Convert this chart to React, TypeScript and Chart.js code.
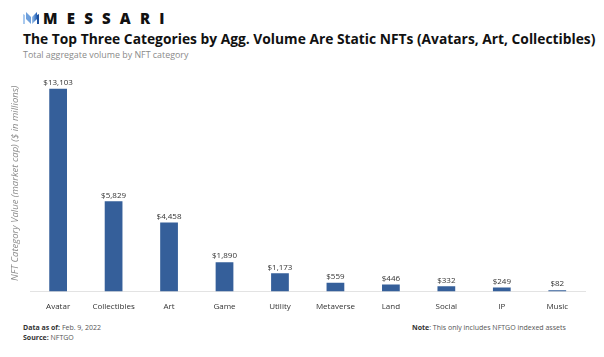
import React, { useEffect, useRef } from "react";
import { Chart, registerables } from "chart.js";

Chart.register(...registerables);

const categories = ["Avatar", "Collectibles", "Art", "Game", "Utility", "Metaverse", "Land", "Social", "IP", "Music"];
const values = [13103, 5829, 4458, 1890, 1173, 559, 446, 332, 249, 82];
const valueLabels = ["$13,103", "$5,829", "$4,458", "$1,890", "$1,173", "$559", "$446", "$332", "$249", "$82"];

const FONT = "'Open Sans', 'Noto Sans', sans-serif";

const labelPlugin = {
  id: "valueLabels",
  afterDatasetsDraw(chart: any) {
    const ctx = chart.ctx;
    const meta = chart.getDatasetMeta(0);
    ctx.save();
    ctx.font = `8px ${FONT}`;
    ctx.fillStyle = "#333333";
    ctx.textAlign = "center";
    ctx.textBaseline = "bottom";
    meta.data.forEach((bar: any, i: number) => {
      ctx.fillText(valueLabels[i], bar.x, bar.y - 2);
    });
    ctx.restore();
  },
};

export default function App() {
  const ref = useRef<HTMLCanvasElement | null>(null);
  useEffect(() => {
    document.body.style.margin = "0";
    const chart = new Chart(ref.current!, {
      type: "bar",
      data: {
        labels: categories,
        datasets: [
          {
            data: values,
            backgroundColor: "#355f9a",
            barPercentage: 0.32,
            categoryPercentage: 1,
          },
        ],
      },
      options: {
        animation: false,
        responsive: true,
        maintainAspectRatio: false,
        layout: { padding: { left: 10, right: 19, top: 10, bottom: 0 } },
        plugins: { legend: { display: false }, tooltip: { enabled: false } },
        scales: {
          x: {
            grid: { display: false },
            border: { display: true, color: "#e3e3e3", width: 1 },
            ticks: { color: "#333333", font: { family: FONT, size: 8 }, padding: 3, maxRotation: 0 },
          },
          y: {
            min: 0,
            max: 14000,
            grid: { display: false },
            border: { display: false },
            ticks: { display: false },
            title: {
              display: true,
              text: "NFT Category Value (market cap) ($ in millions)",
              color: "#8a8a8a",
              font: { family: FONT, size: 9.5, style: "italic" },
              padding: { top: 0, bottom: 1 },
            },
          },
        },
      },
      plugins: [labelPlugin],
    });
    return () => chart.destroy();
  }, []);

  return (
    <div style={{ position: "fixed", left: 0, top: 0, width: 604, height: 357, background: "#fff", fontFamily: FONT, overflow: "hidden" }}>
      <svg style={{ position: "absolute", left: 23, top: 12 }} width="16" height="12" viewBox="0 0 16 12">
        <defs>
          <linearGradient id="lg" x1="0" y1="0" x2="1" y2="0">
            <stop offset="0" stopColor="#9fc3ea" />
            <stop offset="1" stopColor="#1f5fb8" />
          </linearGradient>
        </defs>
        <polygon points="0,2 2,3 2,12 0,12" fill="#a9c9ee" />
        <polygon points="3,0 8,5 8,12 3,7" fill="#6d9fdc" />
        <polygon points="9,5 14,0 14,7 9,12" fill="url(#lg)" />
        <polygon points="14,3 16,2 16,12 14,12" fill="#1c4f9c" />
      </svg>
      <div style={{ position: "absolute", left: 43, top: 8, fontSize: 15, fontWeight: 800, letterSpacing: 9.2, color: "#111", fontFamily: "'Open Sans', sans-serif", lineHeight: "20px" }}>
        MESSARI
      </div>
      <div style={{ position: "absolute", left: 23, top: 31, fontSize: 13.8, fontWeight: 700, color: "#111", lineHeight: "16px", whiteSpace: "nowrap" }}>
        The Top Three Categories by Agg. Volume Are Static NFTs (Avatars, Art, Collectibles)
      </div>
      <div style={{ position: "absolute", left: 23, top: 49, fontSize: 8.9, color: "#8a8a8a", lineHeight: "12px", whiteSpace: "nowrap" }}>
        Total aggregate volume by NFT category
      </div>
      <div style={{ position: "absolute", left: 0, top: 65, width: 604, height: 250 }}>
        <canvas ref={ref} />
      </div>
      <div style={{ position: "absolute", left: 23, top: 323, fontSize: 7, color: "#555", lineHeight: "9.5px", whiteSpace: "nowrap" }}>
        <div><b style={{ color: "#333" }}>Data as of:</b> Feb. 9, 2022</div>
        <div><b style={{ color: "#333" }}>Source:</b> NFTGO</div>
      </div>
      <div style={{ position: "absolute", left: 412, top: 323, fontSize: 7, color: "#555", lineHeight: "9.5px", whiteSpace: "nowrap" }}>
        <b style={{ color: "#333" }}>Note</b>: This only includes NFTGO indexed assets
      </div>
    </div>
  );
}
